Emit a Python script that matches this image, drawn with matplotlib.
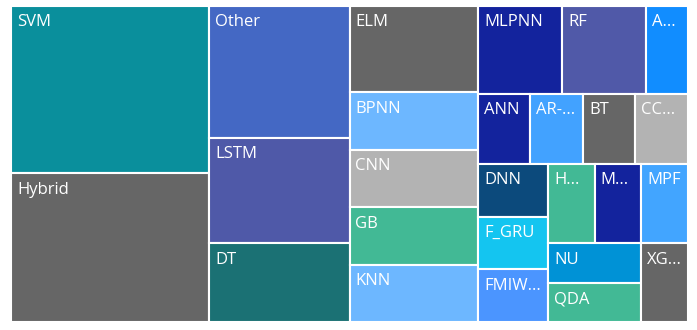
import matplotlib
matplotlib.use("Agg")
import matplotlib.pyplot as plt
from matplotlib.patches import Rectangle

labels = [
    "SVM", "Hybrid", "Other", "LSTM", "DT", "ELM",
    "BPNN", "CNN", "GB", "KNN", "MLPNN", "RF",
    "A...", "ANN", "AR-...", "BT", "CC...", "DNN", "F_GRU", "FMIW...",
    "H...", "M...", "MPF", "NU", "QDA", "XG...",
]
values = [
    9, 8, 5, 4, 3, 3,
    2, 2, 2, 2, 2, 2,
    1, 1, 1, 1, 1, 1, 1, 1,
    1, 1, 1, 1, 1, 1,
]
colors = [
    "#0A8F9C", "#666666", "#4468C4", "#4F59A8", "#1B7174", "#666666",
    "#6DB7FF", "#B3B3B3", "#42B995", "#6DB7FF", "#13239D", "#5059A8",
    "#118DFF", "#13239D", "#42A2FF", "#666666", "#B3B3B3", "#0C4A7C", "#14C5F0", "#4B95FF",
    "#42B995", "#13239D", "#42A5FF", "#0092D6", "#42B995", "#666666",
]

PHI = (1 + 5 ** 0.5) / 2


def squarify(vals, x0, y0, x1, y1, ratio=PHI):
    """Squarified layout (same rule as d3.treemapSquarify)."""
    rects = []
    n = len(vals)
    total = float(sum(vals))
    i0 = 0
    while i0 < n:
        dx, dy = x1 - x0, y1 - y0
        i1 = i0 + 1
        s = vals[i0]
        lo = hi = s
        alpha = max(dy / dx, dx / dy) / (total * ratio)
        beta = s * s * alpha
        best = max(hi / beta, beta / lo)
        while i1 < n:
            v = vals[i1]
            s2 = s + v
            lo2, hi2 = min(lo, v), max(hi, v)
            beta = s2 * s2 * alpha
            r = max(hi2 / beta, beta / lo2)
            if r > best:
                break
            best, s, lo, hi = r, s2, lo2, hi2
            i1 += 1
        row = vals[i0:i1]
        if dx < dy:
            # row across the top
            h = dy * s / total
            cx = x0
            for v in row:
                w = dx * v / s
                rects.append((cx, y0, w, h))
                cx += w
            y0 += h
        else:
            # column on the left
            w = dx * s / total
            cy = y0
            for v in row:
                h = dy * v / s
                rects.append((x0, cy, w, h))
                cy += h
            x0 += w
        total -= s
        i0 = i1
    return rects


W, H = 677, 316
fig = plt.figure(figsize=(6.97, 3.30), dpi=100)
ax = fig.add_axes([11 / 697, 8 / 330, W / 697, H / 330])
ax.set_xlim(0, W)
ax.set_ylim(H, 0)
ax.axis("off")

for (x, y, w, h), lab, col in zip(squarify(values, 0, 0, W, H), labels, colors):
    ax.add_patch(Rectangle((x, y), w, h, facecolor=col, edgecolor="white", linewidth=1.5))
    ax.text(x + 6, y + 8.5, lab, color="white", fontsize=12, family="Open Sans",
            ha="left", va="top")

fig.savefig("out.png", dpi=100)
